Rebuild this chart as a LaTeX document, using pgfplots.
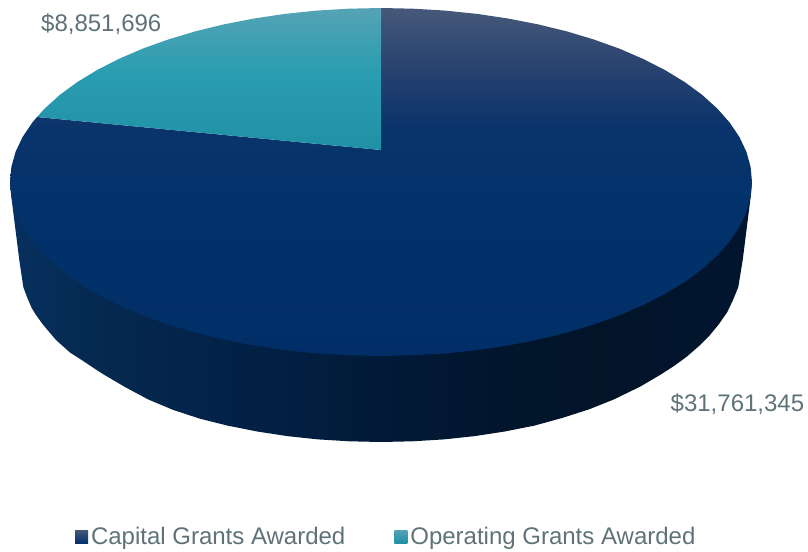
\documentclass[border=0pt]{standalone}
\usepackage{fontspec}
\setmainfont{Liberation Sans}
\usepackage{pgfplots}
\pgfplotsset{compat=1.18}
\definecolor{labelgrey}{HTML}{5F7277}
\definecolor{nA}{HTML}{465879}
\definecolor{nB}{HTML}{27426F}
\definecolor{nC}{HTML}{09336B}
\definecolor{nD}{HTML}{03326A}
\definecolor{nE}{HTML}{012E66}
\definecolor{tA}{HTML}{55A3B5}
\definecolor{tB}{HTML}{2B9DB0}
\definecolor{tC}{HTML}{2090A6}
\definecolor{wA}{HTML}{07305F}
\definecolor{wB}{HTML}{05294F}
\definecolor{wC}{HTML}{03234A}
\definecolor{wD}{HTML}{021A38}
\definecolor{wE}{HTML}{01152B}
\definecolor{wF}{HTML}{011428}
\definecolor{wG}{HTML}{011530}
\pgfdeclareverticalshading{navytop}{100bp}{color(0bp)=(nE);color(25bp)=(nE);color(47.4bp)=(nD);color(57.5bp)=(nC);color(66.1bp)=(nB);color(75bp)=(nA);color(100bp)=(nA)}
\pgfdeclareverticalshading{tealtop}{100bp}{color(0bp)=(tC);color(25bp)=(tC);color(53.2bp)=(tB);color(75bp)=(tA);color(100bp)=(tA)}
\pgfdeclarehorizontalshading{wall}{100bp}{color(0bp)=(wA);color(25bp)=(wA);color(31bp)=(wB);color(37.8bp)=(wC);color(49.9bp)=(wD);color(59.4bp)=(wE);color(64.8bp)=(wF);color(75bp)=(wG);color(100bp)=(wG)}
\begin{document}
\begin{tikzpicture}
\begin{axis}[
  scale only axis, width=808bp, height=552bp,
  xmin=0, xmax=808, ymin=0, ymax=552, y dir=reverse,
  hide axis, clip=false,
  legend columns=2,
  legend cell align=left,
  legend style={at={(axis cs:75,536.5)}, anchor=west, draw=none, fill=none, inner sep=0pt, outer sep=0pt,
    font=\fontsize{24bp}{28bp}\selectfont, text=labelgrey,
    nodes={inner sep=0pt, outer sep=0pt},
    /tikz/every even column/.append style={column sep=49bp}},
]
% side wall of the disc
\addplot[draw=none, shading=wall, forget plot] coordinates {
(752,182)(750.6,197.2)(742.7,260)(738.3,287)(733,300)(727.3,312)(719,324)(710,335)(699,346)(686.7,356.7)(674,366)(660,375)(640,386.7)(613.7,399.5)(588.6,409.5)(562,418)(534,425.7)(504.8,431.5)(474.7,436.1)(443.9,439.4)(412.6,441.3)(381,442)
(349.4,441.3)(318.1,439.4)(287.3,436.1)(257.2,431.5)(228,425.7)(200,418.7)(173.4,410)(148.3,399.5)(125,387)(103.7,374.5)(96.7,370)(84,361.5)(70,352.5)(56,340)(43.3,325)(36,315)(31.7,308)(27,297)(23.3,287)(19.3,260)(11.4,197.2)(10,182)
} -- cycle;
% Capital Grants Awarded: $31,761,345
\addplot[draw=none, shading=navytop, area legend,
  legend image code/.code={\shade[top color=nA, bottom color=nD] (0bp,-6.5bp) rectangle (13bp,6.5bp); \path (16bp,0bp);}] coordinates {
(381,150)(381,8)(413.3,8.7)(445.4,10.6)(477,13.9)(507.9,18.5)(537.8,24.3)(566.5,31.3)(593.8,39.5)(619.5,48.7)(643.3,59)(665.2,70.2)(684.9,82.2)(702.3,95)(717.2,108.5)(729.6,122.5)(739.4,137)(746.4,151.8)(750.6,166.8)(752,182)
(750.6,197.2)(746.4,212.2)(739.4,227)(729.6,241.5)(717.2,255.5)(702.3,269)(684.9,281.8)(665.2,293.8)(643.3,305)(619.5,315.3)(593.8,324.5)(566.5,332.7)(537.8,339.7)(507.9,345.5)(477,350.1)(445.4,353.4)(413.3,355.3)(381,356)
(348.7,355.3)(316.6,353.4)(285,350.1)(254.1,345.5)(224.2,339.7)(195.5,332.7)(168.2,324.5)(142.5,315.3)(118.7,305)(96.8,293.8)(77.1,281.8)(59.7,269)(44.8,255.5)(32.4,241.5)(22.6,227)(15.6,212.2)(11.4,197.2)(10,182)
(11.4,166.8)(15.6,151.8)(22.6,137)(32.4,122.5)(37,117)
} -- cycle;
\addlegendentry{Capital Grants Awarded}
% Operating Grants Awarded: $8,851,696
\addplot[draw=none, shading=tealtop, area legend,
  legend image code/.code={\shade[top color=tA, bottom color=tC] (0bp,-6.5bp) rectangle (13bp,6.5bp); \path (16bp,0bp);}] coordinates {
(381,150)(37,117)(44.8,108.5)(59.7,95)(77.1,82.2)(96.8,70.2)(118.7,59)(142.5,48.7)(168.2,39.5)(195.5,31.3)(224.2,24.3)(254.1,18.5)(285,13.9)(316.6,10.6)(348.7,8.7)(381,8)
} -- cycle;
\addlegendentry{Operating Grants Awarded}
\node[anchor=base west, inner sep=0pt, text=labelgrey, font=\fontsize{24bp}{28bp}\selectfont] at (axis cs:41,32) {\$8,851,696};
\node[anchor=base west, inner sep=0pt, text=labelgrey, font=\fontsize{24bp}{28bp}\selectfont] at (axis cs:670.5,411) {\$31,761,345};
\end{axis}
\pgfresetboundingbox
\path[use as bounding box] (0,0) rectangle (808bp,552bp);
\end{tikzpicture}
\end{document}
